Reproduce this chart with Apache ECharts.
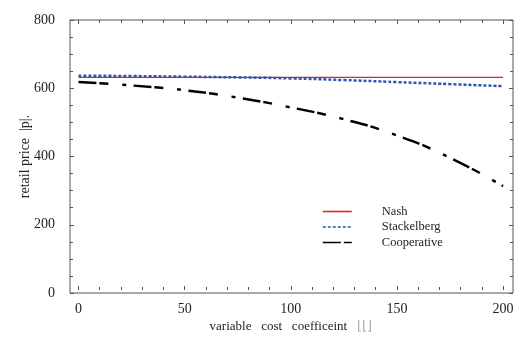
<!DOCTYPE html>
<html><head><meta charset="utf-8">
<script src="https://cdn.jsdelivr.net/npm/echarts@6/dist/echarts.min.js"></script>
<style>html,body{margin:0;padding:0;background:#fff}#c{width:520px;height:338px}</style>
</head><body><div id="c"></div>
<script>
const xs = [0, 25, 50, 75, 100, 125, 150, 175, 200];
const nash = [630, 630, 630, 630, 630, 630, 630, 630, 630];
const stackelberg = [635, 634, 632, 630, 627, 622, 616, 610, 604];
const cooperative = [616, 606, 592, 570, 541, 506, 458, 392, 308];
const xTicks = [0, 50, 100, 150, 200];
const yTicks = [0, 200, 400, 600, 800];

const font = 'Liberation Serif';
const axisColor = '#555';
const pair = arr => xs.map((x, i) => [x, arr[i]]);

const chart = echarts.init(document.getElementById('c'));
chart.setOption({
  animation: false,
  backgroundColor: '#fff',
  grid: [
    {left: 70, right: 7, top: 20, bottom: 45, show: true, borderColor: axisColor, borderWidth: 1, backgroundColor: 'transparent'},
    {left: 78.5, right: 17, top: 20, bottom: 45}
  ],
  xAxis: [
    {gridIndex: 0, type: 'value', min: 0, max: 1, show: false},
    {gridIndex: 1, type: 'value', min: 0, max: 200, interval: 50, position: 'bottom',
     axisLine: {show: false},
     axisTick: {show: true, inside: true, length: 4, lineStyle: {color: axisColor}},
     minorTick: {show: true, splitNumber: 5, length: 3, lineStyle: {color: axisColor}},
     splitLine: {show: false},
     axisLabel: {margin: 12, fontFamily: font, fontSize: 14, color: '#222',
       formatter: v => xTicks.includes(v) ? String(v) : ''},
     name: 'variable   cost   coefficeint   {g|⌊⌊⌋}', nameLocation: 'middle', nameGap: 30, nameMoveOverlap: false,
     nameTextStyle: {fontFamily: font, fontSize: 13, color: '#222', rich: {g: {color: '#aaa', fontFamily: font, fontSize: 13}}}},
    {gridIndex: 1, type: 'value', min: 0, max: 200, interval: 50, position: 'top',
     axisLine: {show: false},
     axisTick: {show: true, inside: true, length: 4, lineStyle: {color: axisColor}},
     minorTick: {show: true, splitNumber: 5, length: 3, lineStyle: {color: axisColor}},
     splitLine: {show: false}, axisLabel: {show: false}}
  ],
  yAxis: [
    {gridIndex: 0, type: 'value', min: 0, max: 800, interval: 200, position: 'left',
     axisLine: {show: false},
     axisTick: {show: true, inside: true, length: 4, lineStyle: {color: axisColor}},
     minorTick: {show: true, splitNumber: 4, length: 3, lineStyle: {color: axisColor}},
     splitLine: {show: false},
     axisLabel: {margin: 15, fontFamily: font, fontSize: 14, color: '#222',
       formatter: v => yTicks.includes(v) ? String(v) : ''},
     name: 'retail price  |p|.', nameLocation: 'middle', nameGap: 38, nameMoveOverlap: false,
     nameTextStyle: {fontFamily: font, fontSize: 14, color: '#222'}},
    {gridIndex: 0, type: 'value', min: 0, max: 800, interval: 200, position: 'right',
     axisLine: {show: false},
     axisTick: {show: true, inside: true, length: 4, lineStyle: {color: axisColor}},
     minorTick: {show: true, splitNumber: 4, length: 3, lineStyle: {color: axisColor}},
     splitLine: {show: false}, axisLabel: {show: false}},
    {gridIndex: 1, type: 'value', min: 0, max: 800, show: false}
  ],
  legend: {
    orient: 'vertical', left: 317, top: 200, itemWidth: 29, itemHeight: 14, itemGap: 2.5,
    itemStyle: {opacity: 0},
    lineStyle: {width: 1.6},
    textStyle: {fontFamily: font, fontSize: 12.5, color: '#222', padding: [0, 0, 0, 25]},
    data: ['Nash', 'Stackelberg', 'Cooperative']
  },
  series: [
    {name: 'Nash', type: 'line', xAxisIndex: 1, yAxisIndex: 2, data: pair(nash), smooth: true, symbol: 'none',
     lineStyle: {color: '#e8202a', width: 1.2}, itemStyle: {color: '#e8202a'}},
    {name: 'Stackelberg', type: 'line', xAxisIndex: 1, yAxisIndex: 2, data: pair(stackelberg), smooth: true, symbol: 'none',
     lineStyle: {color: '#2a55b0', width: 2.5, type: [3, 2]}, itemStyle: {color: '#2a55b0'}},
    {name: 'Cooperative', type: 'line', xAxisIndex: 1, yAxisIndex: 2, data: pair(cooperative), smooth: true, symbol: 'none',
     lineStyle: {color: '#000', width: 2.5, type: [18, 3, 9, 14, 4, 7]}, itemStyle: {color: '#000'}}
  ]
});
</script></body></html>
